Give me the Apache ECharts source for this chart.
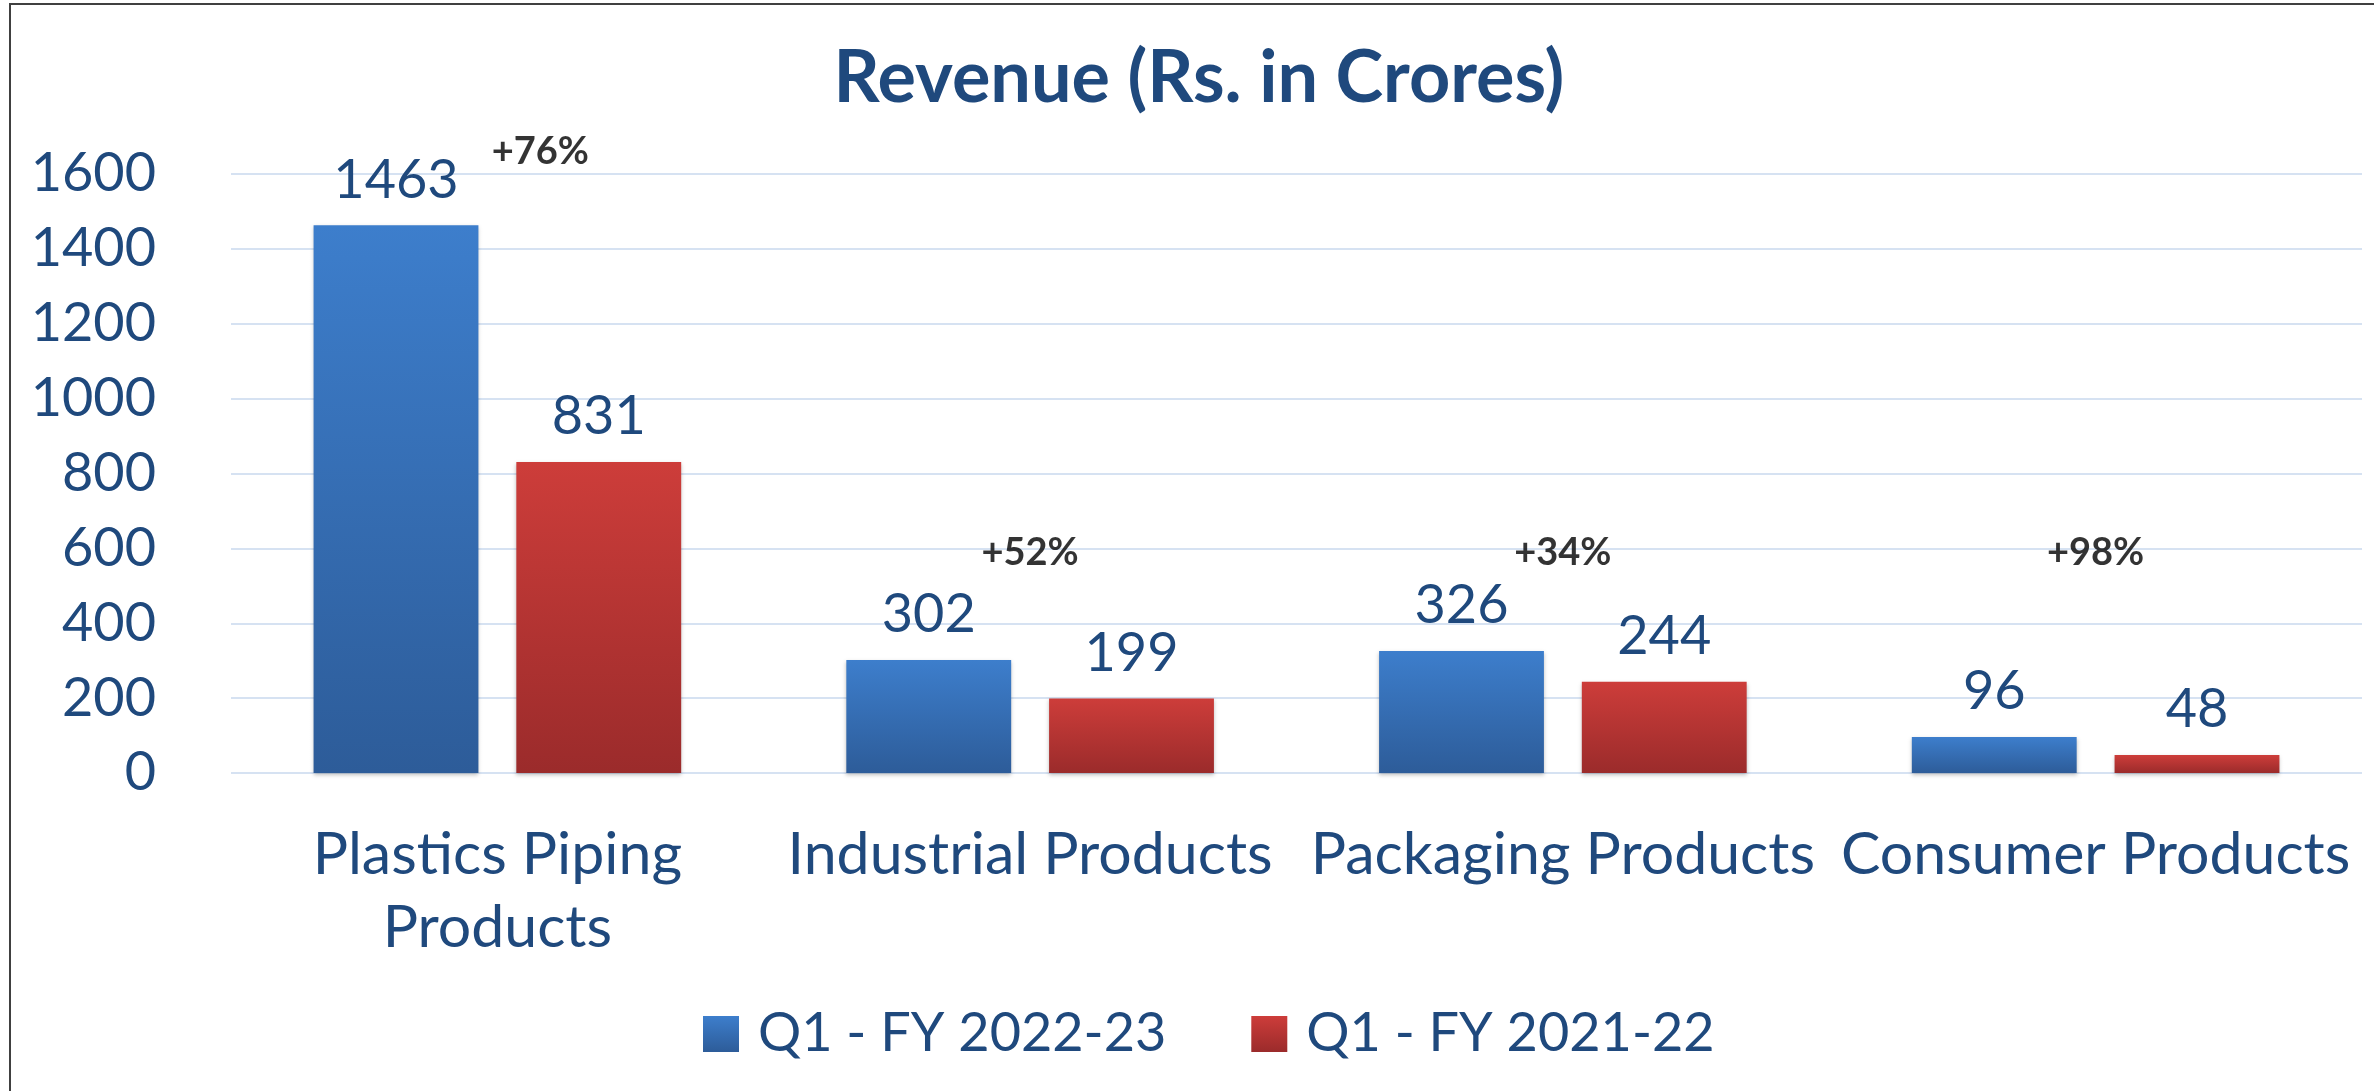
<!DOCTYPE html>
<html>
<head>
<meta charset="utf-8">
<script src="https://cdn.jsdelivr.net/npm/echarts@6/dist/echarts.min.js"></script>
<style>
  html, body { margin: 0; padding: 0; background: #fff; }
  #chart { width: 2374px; height: 1091px; }
</style>
</head>
<body>
<div id="chart"></div>
<script>
// chart data
var categories = ['Plastics Piping\nProducts', 'Industrial Products', 'Packaging Products', 'Consumer Products'];
var seriesNames = ['Q1 - FY 2022-23', 'Q1 - FY 2021-22'];
var revenueFY23 = [1463, 302, 326, 96];
var revenueFY22 = [831, 199, 244, 48];
var growthLabels = ['+76%', '+52%', '+34%', '+98%'];
var growthLevel = [1660, 588, 588, 588];   // height of growth labels, in axis units
var yTicks = [0, 200, 400, 600, 800, 1000, 1200, 1400, 1600];

var textBlue = '#1F497D';
var font = 'Lato';

function grad(top, bottom) {
    return new echarts.graphic.LinearGradient(0, 0, 0, 1, [
        { offset: 0, color: top },
        { offset: 1, color: bottom }
    ]);
}

var chart = echarts.init(document.getElementById('chart'));

var growthData = growthLabels.map(function (t, i) {
    var item = { value: [i, growthLevel[i]], name: t };
    if (i === 0) item.label = { offset: [43, 0] };
    return item;
});

var option = {
    backgroundColor: '#fff',
    animation: false,
    title: {
        text: 'Revenue (Rs. in Crores)',
        left: 1199,
        top: 79,
        padding: 0,
        textAlign: 'center',
        textVerticalAlign: 'middle',
        textStyle: { fontFamily: font, fontSize: 72, fontWeight: 'bold', color: textBlue }
    },
    legend: {
        data: seriesNames,
        icon: 'rect',
        left: 703,
        top: 1007,
        padding: 0,
        itemWidth: 36,
        itemHeight: 36,
        itemGap: 85,
        textStyle: { fontFamily: font, fontSize: 54, color: textBlue, padding: [0, 0, 0, 14] }
    },
    grid: { left: 231, right: 12, top: 174, bottom: 318, containLabel: false },
    xAxis: {
        type: 'category',
        data: categories,
        axisLine: { show: false },
        axisTick: { show: false },
        axisLabel: {
            interval: 0,
            margin: 45,
            fontFamily: font,
            fontSize: 59,
            lineHeight: 73,
            color: textBlue
        }
    },
    yAxis: {
        type: 'value',
        min: yTicks[0],
        max: yTicks[yTicks.length - 1],
        interval: 200,
        axisLine: { show: false },
        axisTick: { show: false },
        axisLabel: {
            margin: 75, fontFamily: font, fontSize: 54, color: textBlue,
            formatter: function (v) { return String(v); }
        },
        splitLine: { lineStyle: { color: '#D6E2F2', width: 2 } }
    },
    series: [
        {
            name: seriesNames[0],
            type: 'bar',
            data: revenueFY23,
            barCategoryGap: '31%',
            barGap: '23%',
            itemStyle: {
                color: grad('#3D7ECC', '#2D5C99'),
                shadowColor: 'rgba(0,0,0,0.25)',
                shadowBlur: 4,
                shadowOffsetY: 2
            },
            label: {
                show: true, position: 'top', distance: 18,
                fontFamily: font, fontSize: 54, color: textBlue
            }
        },
        {
            name: seriesNames[1],
            type: 'bar',
            data: revenueFY22,
            barCategoryGap: '31%',
            barGap: '23%',
            itemStyle: {
                color: grad('#CD3D3A', '#9B2B2B'),
                shadowColor: 'rgba(0,0,0,0.25)',
                shadowBlur: 4,
                shadowOffsetY: 2
            },
            label: {
                show: true, position: 'top', distance: 18,
                fontFamily: font, fontSize: 54, color: textBlue
            }
        },
        {
            name: 'growth',
            type: 'scatter',
            data: growthData,
            symbolSize: 0,
            clip: false,
            silent: true,
            label: {
                show: true,
                position: 'inside',
                formatter: function (p) { return p.name; },
                fontFamily: font, fontSize: 38, fontWeight: 'bold', color: '#000'
            }
        }
    ],
    graphic: [
        {
            type: 'rect',
            shape: { x: 10, y: 4, width: 2400, height: 1120 },
            style: { fill: 'none', stroke: '#404040', lineWidth: 2 },
            silent: true
        }
    ]
};

chart.setOption(option);
</script>
</body>
</html>
